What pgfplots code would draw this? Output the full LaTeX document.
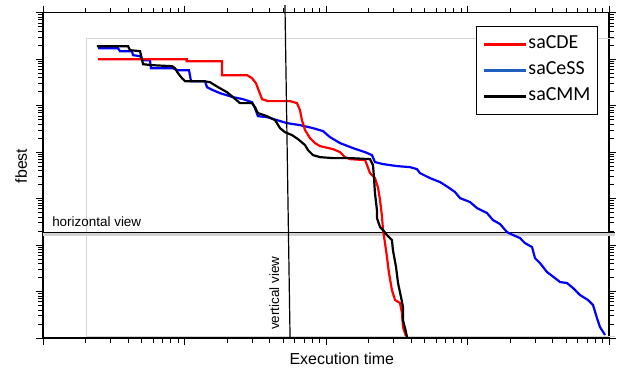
\documentclass[border=0pt]{standalone}
\usepackage{fontspec}
\setmainfont{Liberation Sans}
\newfontfamily\carlito{Carlito}
\usepackage{pgfplots}
\pgfplotsset{compat=1.18}
\definecolor{legblue}{RGB}{31,95,191}
\definecolor{lgray}{RGB}{212,212,212}
\begin{document}
\begin{tikzpicture}
\begin{axis}[
  scale only axis, width=566bp, height=325.3bp,
  xmin=0, xmax=4, ymin=0, ymax=7,
  xtick={0,1,2,3,4}, ytick={0,1,2,3,4,5,6,7},
  minor xtick={0.301,0.477,0.602,0.699,0.778,0.845,0.903,0.954,
               1.301,1.477,1.602,1.699,1.778,1.845,1.903,1.954,
               2.301,2.477,2.602,2.699,2.778,2.845,2.903,2.954,
               3.301,3.477,3.602,3.699,3.778,3.845,3.903,3.954},
  minor ytick={0.301,0.477,0.602,0.699,0.778,0.845,0.903,0.954,
               1.301,1.477,1.602,1.699,1.778,1.845,1.903,1.954,
               2.301,2.477,2.602,2.699,2.778,2.845,2.903,2.954,
               3.301,3.477,3.602,3.699,3.778,3.845,3.903,3.954,
               4.301,4.477,4.602,4.699,4.778,4.845,4.903,4.954,
               5.301,5.477,5.602,5.699,5.778,5.845,5.903,5.954,
               6.301,6.477,6.602,6.699,6.778,6.845,6.903,6.954},
  xticklabels={}, yticklabels={},
  tick align=outside, major tick length=7bp, minor tick length=4.5bp,
  every tick/.append style={black, line width=0.9bp},
  axis line style={line width=1.5bp},
  clip=false,
  xlabel={Execution time}, ylabel={fbest},
  label style={font=\fontsize{16}{19}\selectfont},
  xlabel style={at={(axis description cs:0.528,0)}, anchor=base, yshift=-26bp},
  ylabel style={at={(axis description cs:-0.0283,0.529)}, anchor=base},
  legend style={at={(axis description cs:0.9806,0.959)}, anchor=north east,
    draw=black, line width=1bp, font=\carlito\fontsize{20}{20}\selectfont,
    inner xsep=6.5bp, inner ysep=5bp, row sep=0pt,
    nodes={inner xsep=0.5bp, inner ysep=3.5bp, text height=13.5bp, text depth=5.5bp}},
  legend cell align=left,
  legend image code/.code={\draw[#1] (0bp,0bp) -- (42bp,0bp);},
]
% grey frame of the inner plot area
\draw[lgray, line width=0.8bp] (axis cs:4.04,6.437) -- (axis cs:0.304,6.437) -- (axis cs:0.304,0.043) -- (axis cs:4.04,0.043);
% horizontal view line
\draw[black!18, line width=3bp, yshift=-2.2bp] (axis cs:0,2.265) -- (axis cs:4.04,2.265);
\draw[black, line width=1.2bp] (axis cs:0,2.265) -- (axis cs:4.04,2.265);

\addlegendimage{red, line width=3bp}
\addlegendentry{saCDE}
\addlegendimage{legblue, line width=3bp}
\addlegendentry{saCeSS}
\addlegendimage{black, line width=3bp}
\addlegendentry{saCMM}

% saCeSS
\addplot[blue, line width=2.2bp, forget plot] coordinates {
(0.389,6.237)(0.530,6.237)(0.544,6.172)(0.629,6.172)(0.636,6.086)(0.686,6.065)
(0.707,5.978)(0.756,5.978)(0.763,5.806)(0.919,5.806)(0.947,5.763)(1.032,5.763)
(1.046,5.527)(1.145,5.527)(1.159,5.398)(1.201,5.333)(1.251,5.269)(1.343,5.183)
(1.413,5.140)(1.477,5.075)(1.498,4.946)(1.519,4.774)(1.583,4.753)(1.654,4.688)
(1.724,4.624)(1.816,4.581)(1.908,4.516)(1.979,4.452)(2.028,4.323)(2.099,4.194)
(2.191,4.086)(2.276,4.000)(2.325,3.935)(2.346,3.785)(2.403,3.742)(2.502,3.699)
(2.594,3.677)(2.643,3.634)(2.664,3.548)(2.735,3.441)(2.806,3.355)(2.862,3.247)
(2.912,3.140)(2.947,3.011)(3.018,2.925)(3.067,2.796)(3.138,2.688)(3.180,2.538)
(3.230,2.452)(3.279,2.280)(3.322,2.215)(3.371,2.151)(3.406,2.043)(3.456,1.957)
(3.477,1.720)(3.512,1.613)(3.562,1.419)(3.618,1.290)(3.654,1.204)(3.703,1.183)
(3.746,1.075)(3.795,0.925)(3.852,0.817)(3.887,0.710)(3.915,0.430)(3.936,0.237)
(3.972,0.065)
};
% saCDE
\addplot[red, line width=2.2bp, forget plot] coordinates {
(0.387,6.000)(1.016,6.000)(1.016,5.957)(1.265,5.957)(1.265,5.656)(1.442,5.656)
(1.477,5.591)(1.505,5.484)(1.548,5.140)(1.590,5.097)(1.746,5.097)(1.795,5.054)
(1.816,4.903)(1.830,4.688)(1.852,4.473)(1.887,4.301)(1.922,4.194)(1.958,4.129)
(2.049,4.065)(2.099,4.000)(2.134,3.892)(2.170,3.849)(2.276,3.828)(2.290,3.720)
(2.311,3.548)(2.346,3.441)(2.367,3.247)(2.382,2.968)(2.396,2.602)(2.403,2.323)
(2.417,2.043)(2.431,1.742)(2.445,1.398)(2.466,1.032)(2.488,0.817)(2.523,0.753)
(2.537,0.538)(2.544,0.237)(2.565,0.043)
};
% saCMM
\addplot[black, line width=2.2bp, forget plot] coordinates {
(0.380,6.280)(0.601,6.280)(0.615,6.194)(0.686,6.172)(0.707,5.892)(0.770,5.871)
(0.912,5.849)(0.933,5.806)(0.954,5.699)(0.982,5.591)(1.004,5.527)(1.131,5.527)
(1.180,5.505)(1.237,5.398)(1.300,5.290)(1.343,5.183)(1.392,5.054)(1.477,5.054)
(1.498,4.968)(1.519,4.839)(1.583,4.774)(1.640,4.688)(1.675,4.516)(1.710,4.430)
(1.760,4.366)(1.802,4.280)(1.852,4.151)(1.873,4.043)(1.908,3.935)(1.958,3.892)
(2.049,3.871)(2.170,3.871)(2.311,3.849)(2.332,3.720)(2.339,3.462)(2.346,3.118)
(2.360,2.753)(2.360,2.581)(2.382,2.387)(2.403,2.323)(2.431,2.215)(2.466,2.108)
(2.473,1.892)(2.495,1.527)(2.509,1.183)(2.530,0.882)(2.544,0.667)(2.544,0.387)
(2.565,0.129)(2.572,0.022)
};
% vertical view line
\draw[black, line width=1.2bp] (axis cs:1.710,7.161) -- (axis cs:1.746,0);
\node[anchor=base west, inner sep=0pt, font=\fontsize{13.5}{16}\selectfont] at (axis cs:0.064,2.409) {horizontal view};
\node[rotate=90, anchor=base west, inner sep=0pt, font=\fontsize{13.5}{16}\selectfont] at (axis cs:1.668,0.172) {vertical view};
\end{axis}
\pgfresetboundingbox
\path[use as bounding box] (-43bp,-30bp) rectangle (576bp,338bp);
\end{tikzpicture}
\end{document}
